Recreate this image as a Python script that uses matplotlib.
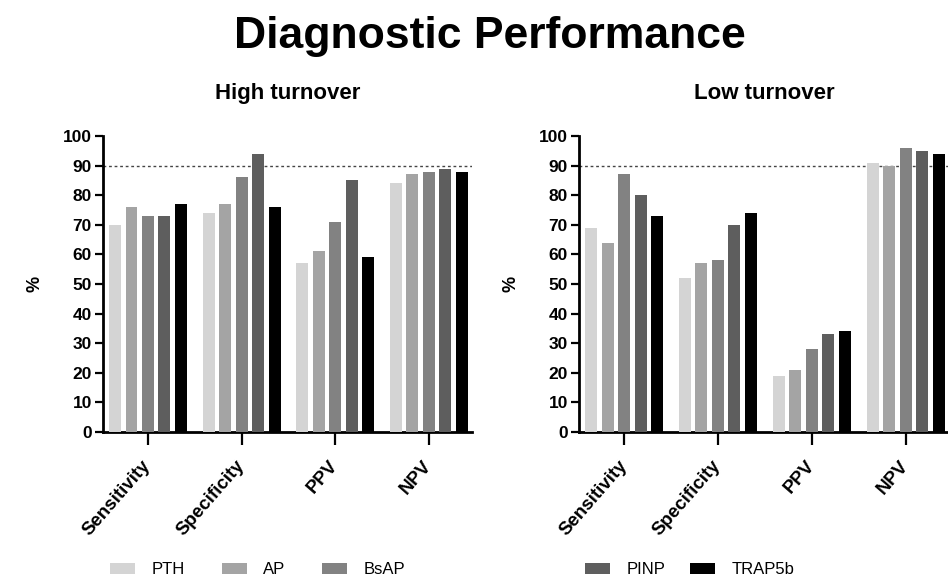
import numpy as np
import matplotlib
matplotlib.use("Agg")
import matplotlib.pyplot as plt
from matplotlib.patches import Patch

plt.rcParams['font.family'] = ['Liberation Sans', 'DejaVu Sans']

# ---- data ----
metrics = ["Sensitivity", "Specificity", "PPV", "NPV"]
markers = ["PTH", "AP", "BsAP", "PINP", "TRAP5b"]
colors = ["#d4d4d4", "#a4a4a4", "#828282", "#5e5e5e", "#000000"]

high_pth = [70, 74, 57, 84]
high_ap = [76, 77, 61, 87]
high_bsap = [73, 86, 71, 88]
high_pinp = [73, 94, 85, 89]
high_trap = [77, 76, 59, 88]

low_pth = [69, 52, 19, 91]
low_ap = [64, 57, 21, 90]
low_bsap = [87, 58, 28, 96]
low_pinp = [80, 70, 33, 95]
low_trap = [73, 74, 34, 94]

threshold = 90

fig = plt.figure(figsize=(9.48, 5.82), dpi=100)
ax1 = fig.add_axes([0.1087, 0.2577, 0.389, 0.5086])
ax2 = fig.add_axes([0.6108, 0.2577, 0.390, 0.5086])

x = np.arange(len(metrics))
pitch, width = 0.176, 0.128


def draw_panel(ax, series, title):
    for i, vals in enumerate(series):
        ax.bar(x + (i - 2) * pitch, vals, width, color=colors[i], zorder=3)
    ax.axhline(threshold, color="#444444", lw=1.0, ls=(0, (2, 2)), zorder=2)
    ax.set_xlim(-0.48, 3.46)
    ax.set_ylim(0, 100)
    ax.set_yticks(range(0, 101, 10))
    ax.set_xticks(x)
    ax.set_xticklabels(metrics, rotation=49, ha="right", va="center",
                       rotation_mode="anchor", fontweight="bold", fontsize=13.5)
    for lab in ax.get_yticklabels():
        lab.set_fontweight("bold")
    ax.tick_params(axis="y", labelsize=12.5, length=6, width=1.6, pad=2)
    ax.tick_params(axis="x", length=9, width=1.6, pad=13)
    for s in ("top", "right"):
        ax.spines[s].set_visible(False)
    for s in ("left", "bottom"):
        ax.spines[s].set_linewidth(2)
    ax.set_ylabel("%", fontsize=13, fontweight="bold", labelpad=14)
    ax.set_title(title, fontsize=16, fontweight="bold", pad=27)


draw_panel(ax1, [high_pth, high_ap, high_bsap, high_pinp, high_trap], "High turnover")
draw_panel(ax2, [low_pth, low_ap, low_bsap, low_pinp, low_trap], "Low turnover")

fig.suptitle("Diagnostic Performance", fontsize=32, fontweight="bold", x=0.517, y=0.972)

# legend split in two groups along the bottom
handles = [Patch(facecolor=c, edgecolor="none") for c in colors]
kw = dict(frameon=False, fontsize=12, handlelength=1.5, handleheight=0.6,
          handletextpad=1.0, borderpad=0, borderaxespad=0, loc="center left")
fig.legend(handles[:3], markers[:3], ncol=3, columnspacing=2.2,
           bbox_to_anchor=(0.116, 0.021), **kw)
fig.legend(handles[3:], markers[3:], ncol=2, columnspacing=1.5,
           bbox_to_anchor=(0.617, 0.021), **kw)

fig.savefig("out.png", dpi=100)
